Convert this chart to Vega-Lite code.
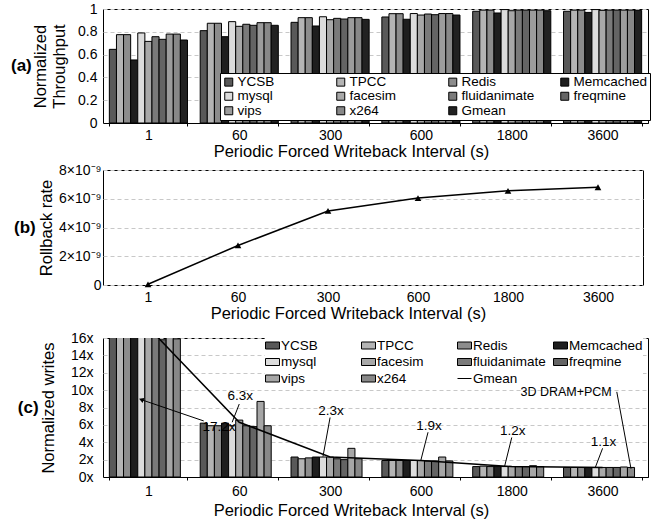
{
  "$schema": "https://vega.github.io/schema/vega-lite/v6.json",
  "padding": {"left": 10, "top": 1, "right": 0, "bottom": 0},
  "spacing": 2,
  "resolve": {"scale": {"fill": "independent"}, "legend": {"fill": "independent"}},
  "config": {
    "font": "Liberation Sans",
    "view": {"stroke": "#000", "strokeWidth": 1},
    "axis": {"labelFont": "Liberation Sans", "titleFont": "Liberation Sans", "labelFontSize": 14, "titleFontSize": 16.5, "titleFontWeight": "normal", "labelColor": "#000", "titleColor": "#000", "gridColor": "#c8c8c8", "gridDash": [4, 3], "domain": false, "ticks": false, "labelOverlap": false},
    "legend": {"labelFont": "Liberation Sans", "labelFontSize": 13.5, "labelColor": "#000"},
    "title": {"font": "Liberation Sans", "color": "#000"}
  },
  "datasets": {
    "thr": [
      {"interval": "1", "bench": "YCSB", "v": 0.646}, {"interval": "1", "bench": "TPCC", "v": 0.775}, {"interval": "1", "bench": "Redis", "v": 0.775}, {"interval": "1", "bench": "Memcached", "v": 0.553}, {"interval": "1", "bench": "mysql", "v": 0.79}, {"interval": "1", "bench": "facesim", "v": 0.716}, {"interval": "1", "bench": "fluidanimate", "v": 0.757}, {"interval": "1", "bench": "freqmine", "v": 0.734}, {"interval": "1", "bench": "vips", "v": 0.78}, {"interval": "1", "bench": "x264", "v": 0.78}, {"interval": "1", "bench": "Gmean", "v": 0.728},
      {"interval": "60", "bench": "YCSB", "v": 0.81}, {"interval": "60", "bench": "TPCC", "v": 0.875}, {"interval": "60", "bench": "Redis", "v": 0.875}, {"interval": "60", "bench": "Memcached", "v": 0.757}, {"interval": "60", "bench": "mysql", "v": 0.889}, {"interval": "60", "bench": "facesim", "v": 0.848}, {"interval": "60", "bench": "fluidanimate", "v": 0.866}, {"interval": "60", "bench": "freqmine", "v": 0.857}, {"interval": "60", "bench": "vips", "v": 0.88}, {"interval": "60", "bench": "x264", "v": 0.88}, {"interval": "60", "bench": "Gmean", "v": 0.857},
      {"interval": "300", "bench": "YCSB", "v": 0.883}, {"interval": "300", "bench": "TPCC", "v": 0.924}, {"interval": "300", "bench": "Redis", "v": 0.924}, {"interval": "300", "bench": "Memcached", "v": 0.851}, {"interval": "300", "bench": "mysql", "v": 0.932}, {"interval": "300", "bench": "facesim", "v": 0.906}, {"interval": "300", "bench": "fluidanimate", "v": 0.918}, {"interval": "300", "bench": "freqmine", "v": 0.912}, {"interval": "300", "bench": "vips", "v": 0.924}, {"interval": "300", "bench": "x264", "v": 0.924}, {"interval": "300", "bench": "Gmean", "v": 0.909},
      {"interval": "600", "bench": "YCSB", "v": 0.93}, {"interval": "600", "bench": "TPCC", "v": 0.959}, {"interval": "600", "bench": "Redis", "v": 0.959}, {"interval": "600", "bench": "Memcached", "v": 0.91}, {"interval": "600", "bench": "mysql", "v": 0.96}, {"interval": "600", "bench": "facesim", "v": 0.947}, {"interval": "600", "bench": "fluidanimate", "v": 0.956}, {"interval": "600", "bench": "freqmine", "v": 0.95}, {"interval": "600", "bench": "vips", "v": 0.96}, {"interval": "600", "bench": "x264", "v": 0.96}, {"interval": "600", "bench": "Gmean", "v": 0.947},
      {"interval": "1800", "bench": "YCSB", "v": 0.98}, {"interval": "1800", "bench": "TPCC", "v": 0.99}, {"interval": "1800", "bench": "Redis", "v": 0.99}, {"interval": "1800", "bench": "Memcached", "v": 0.965}, {"interval": "1800", "bench": "mysql", "v": 0.995}, {"interval": "1800", "bench": "facesim", "v": 0.985}, {"interval": "1800", "bench": "fluidanimate", "v": 0.99}, {"interval": "1800", "bench": "freqmine", "v": 0.99}, {"interval": "1800", "bench": "vips", "v": 0.99}, {"interval": "1800", "bench": "x264", "v": 0.99}, {"interval": "1800", "bench": "Gmean", "v": 0.985},
      {"interval": "3600", "bench": "YCSB", "v": 0.98}, {"interval": "3600", "bench": "TPCC", "v": 0.99}, {"interval": "3600", "bench": "Redis", "v": 0.99}, {"interval": "3600", "bench": "Memcached", "v": 0.97}, {"interval": "3600", "bench": "mysql", "v": 0.995}, {"interval": "3600", "bench": "facesim", "v": 0.988}, {"interval": "3600", "bench": "fluidanimate", "v": 0.99}, {"interval": "3600", "bench": "freqmine", "v": 0.99}, {"interval": "3600", "bench": "vips", "v": 0.99}, {"interval": "3600", "bench": "x264", "v": 0.99}, {"interval": "3600", "bench": "Gmean", "v": 0.988}
    ],
    "rb": [
      {"interval": "1", "r": 0.05e-9}, {"interval": "60", "r": 2.75e-9}, {"interval": "300", "r": 5.15e-9}, {"interval": "600", "r": 6.05e-9}, {"interval": "1800", "r": 6.55e-9}, {"interval": "3600", "r": 6.8e-9}
    ],
    "wr": [
      {"interval": "1", "bench": "YCSB", "v": 17.5}, {"interval": "1", "bench": "TPCC", "v": 18}, {"interval": "1", "bench": "Redis", "v": 17}, {"interval": "1", "bench": "Memcached", "v": 19}, {"interval": "1", "bench": "mysql", "v": 16.8}, {"interval": "1", "bench": "facesim", "v": 18.5}, {"interval": "1", "bench": "fluidanimate", "v": 16.5}, {"interval": "1", "bench": "freqmine", "v": 15.8}, {"interval": "1", "bench": "vips", "v": 19.5}, {"interval": "1", "bench": "x264", "v": 15.9},
      {"interval": "60", "bench": "YCSB", "v": 6.2}, {"interval": "60", "bench": "TPCC", "v": 5.9}, {"interval": "60", "bench": "Redis", "v": 5.9}, {"interval": "60", "bench": "Memcached", "v": 6.2}, {"interval": "60", "bench": "mysql", "v": 5.9}, {"interval": "60", "bench": "facesim", "v": 6.55}, {"interval": "60", "bench": "fluidanimate", "v": 5.9}, {"interval": "60", "bench": "freqmine", "v": 5.8}, {"interval": "60", "bench": "vips", "v": 8.7}, {"interval": "60", "bench": "x264", "v": 5.9},
      {"interval": "300", "bench": "YCSB", "v": 2.3}, {"interval": "300", "bench": "TPCC", "v": 2.1}, {"interval": "300", "bench": "Redis", "v": 2.2}, {"interval": "300", "bench": "Memcached", "v": 2.3}, {"interval": "300", "bench": "mysql", "v": 2.3}, {"interval": "300", "bench": "facesim", "v": 2.3}, {"interval": "300", "bench": "fluidanimate", "v": 2.1}, {"interval": "300", "bench": "freqmine", "v": 2.0}, {"interval": "300", "bench": "vips", "v": 3.3}, {"interval": "300", "bench": "x264", "v": 2.1},
      {"interval": "600", "bench": "YCSB", "v": 1.9}, {"interval": "600", "bench": "TPCC", "v": 1.9}, {"interval": "600", "bench": "Redis", "v": 1.9}, {"interval": "600", "bench": "Memcached", "v": 1.9}, {"interval": "600", "bench": "mysql", "v": 1.9}, {"interval": "600", "bench": "facesim", "v": 1.9}, {"interval": "600", "bench": "fluidanimate", "v": 1.85}, {"interval": "600", "bench": "freqmine", "v": 1.85}, {"interval": "600", "bench": "vips", "v": 2.3}, {"interval": "600", "bench": "x264", "v": 1.85},
      {"interval": "1800", "bench": "YCSB", "v": 1.2}, {"interval": "1800", "bench": "TPCC", "v": 1.25}, {"interval": "1800", "bench": "Redis", "v": 1.2}, {"interval": "1800", "bench": "Memcached", "v": 1.2}, {"interval": "1800", "bench": "mysql", "v": 1.2}, {"interval": "1800", "bench": "facesim", "v": 1.2}, {"interval": "1800", "bench": "fluidanimate", "v": 1.2}, {"interval": "1800", "bench": "freqmine", "v": 1.2}, {"interval": "1800", "bench": "vips", "v": 1.3}, {"interval": "1800", "bench": "x264", "v": 1.2},
      {"interval": "3600", "bench": "YCSB", "v": 1.1}, {"interval": "3600", "bench": "TPCC", "v": 1.1}, {"interval": "3600", "bench": "Redis", "v": 1.1}, {"interval": "3600", "bench": "Memcached", "v": 1.1}, {"interval": "3600", "bench": "mysql", "v": 1.1}, {"interval": "3600", "bench": "facesim", "v": 1.1}, {"interval": "3600", "bench": "fluidanimate", "v": 1.1}, {"interval": "3600", "bench": "freqmine", "v": 1.1}, {"interval": "3600", "bench": "vips", "v": 1.15}, {"interval": "3600", "bench": "x264", "v": 1.1}
    ],
    "gm": [
      {"interval": "1", "v": 17.2}, {"interval": "60", "v": 6.3}, {"interval": "300", "v": 2.3}, {"interval": "600", "v": 1.9}, {"interval": "1800", "v": 1.2}, {"interval": "3600", "v": 1.1}
    ],
    "ann": [
      {"interval": "60", "bench": "facesim", "v": 9.3, "label": "6.3x"},
      {"interval": "300", "bench": "facesim", "v": 7.6, "label": "2.3x"},
      {"interval": "600", "bench": "fluidanimate", "v": 5.9, "label": "1.9x"},
      {"interval": "1800", "bench": "facesim", "v": 5.3, "label": "1.2x"},
      {"interval": "3600", "bench": "facesim", "v": 4.0, "label": "1.1x"},
      {"interval": "60", "bench": "Redis", "v": 5.8, "label": "17.2x"}
    ],
    "lead": [
      {"id": "a", "interval": "60", "bench": "facesim", "v": 8.4}, {"id": "a", "interval": "60", "bench": "mysql", "v": 6.3},
      {"id": "b", "interval": "300", "bench": "facesim", "v": 6.85}, {"id": "b", "interval": "300", "bench": "mysql", "v": 2.35},
      {"id": "c", "interval": "600", "bench": "fluidanimate", "v": 5.15}, {"id": "c", "interval": "600", "bench": "facesim", "v": 1.95},
      {"id": "d", "interval": "1800", "bench": "facesim", "v": 4.55}, {"id": "d", "interval": "1800", "bench": "mysql", "v": 1.25},
      {"id": "e", "interval": "3600", "bench": "facesim", "v": 3.3}, {"id": "e", "interval": "3600", "bench": "mysql", "v": 1.15},
      {"id": "f", "interval": "60", "bench": "YCSB", "v": 6.45}, {"id": "f", "interval": "1", "bench": "mysql", "v": 8.9},
      {"id": "g", "interval": "3600", "bench": "freqmine", "v": 9.8}, {"id": "g", "interval": "3600", "bench": "x264", "v": 0.95}
    ],
    "arrow": [{"interval": "1", "bench": "mysql", "v": 8.9}],
    "dram": [{"interval": "3600", "bench": "freqmine", "v": 9.8, "label": "3D DRAM+PCM"}]
  },
  "vconcat": [
    {
      "width": 545,
      "height": 114,
      "title": {"text": "(a)", "orient": "left", "angle": 0, "anchor": "middle", "align": "right", "baseline": "middle", "fontSize": 17, "fontWeight": "bold", "offset": -20},
      "data": {"name": "thr"},
      "mark": {"type": "bar", "stroke": "#000", "strokeWidth": 1},
      "encoding": {
        "x": {"field": "interval", "type": "nominal", "sort": ["1", "60", "300", "600", "1800", "3600"], "scale": {"paddingInner": 0.14, "paddingOuter": 0.07},
          "axis": {"title": "Periodic Forced Writeback Interval (s)", "labelAngle": 0, "domain": true, "domainColor": "#000", "ticks": true, "tickBand": "extent", "tickColor": "#000", "tickSize": 3, "labelPadding": 2, "titleX": 248, "titleY": 20}},
        "xOffset": {"field": "bench", "type": "nominal", "scale": {"domain": ["YCSB", "TPCC", "Redis", "Memcached", "mysql", "facesim", "fluidanimate", "freqmine", "vips", "x264", "Gmean"]}},
        "y": {"field": "v", "type": "quantitative", "scale": {"domain": [0, 1]},
          "axis": {"title": ["Normalized", "Throughput"], "values": [0, 0.2, 0.4, 0.6, 0.8, 1], "format": "~g", "grid": true, "labelOverlap": false, "labelPadding": 6, "titlePadding": 10, "titleLineHeight": 19}},
        "fill": {"field": "bench", "type": "nominal",
          "scale": {"domain": ["YCSB", "TPCC", "Redis", "Memcached", "mysql", "facesim", "fluidanimate", "freqmine", "vips", "x264", "Gmean"],
                    "range": ["#595959", "#b4b4b4", "#8c8c8c", "#1e1e1e", "#dcdcdc", "#a8a8a8", "#7a7a7a", "#646464", "#9c9c9c", "#888888", "#222222"]},
          "legend": {"title": null, "orient": "none", "legendX": 117, "legendY": 64, "columns": 4, "direction": "horizontal", "gridAlign": "all", "columnPadding": 22, "rowPadding": -0.5, "padding": 2, "fillColor": "#fff", "strokeColor": "#000", "symbolType": "square", "symbolSize": 64, "symbolStrokeColor": "#000", "symbolStrokeWidth": 1, "symbolOpacity": 1, "labelOffset": 2}}
      }
    },
    {
      "width": 540,
      "height": 115,
      "title": {"text": "(b)", "orient": "left", "angle": 0, "anchor": "middle", "align": "right", "baseline": "middle", "fontSize": 17, "fontWeight": "bold", "offset": -19},
      "data": {"name": "rb"},
      "encoding": {
        "x": {"field": "interval", "type": "nominal", "sort": ["1", "60", "300", "600", "1800", "3600"], "scale": {"type": "point", "padding": 0.5},
          "axis": {"title": "Periodic Forced Writeback Interval (s)", "labelAngle": 0, "ticks": true, "tickSize": 42, "tickOpacity": 0, "labelPadding": -37, "titleX": 245, "titleY": 20}},
        "y": {"field": "r", "type": "quantitative", "scale": {"domain": [0, 8e-9]},
          "axis": {"title": "Rollback rate", "values": [0, 2e-9, 4e-9, 6e-9, 8e-9], "labelExpr": "datum.value == 0 ? '0' : format(datum.value * 1e9, '.0f') + '×10⁻⁹'", "grid": true, "labelOverlap": false, "labelPadding": 2, "titlePadding": 4}}
      },
      "layer": [
        {"mark": {"type": "line", "color": "#000", "strokeWidth": 1.5}},
        {"mark": {"type": "point", "shape": "triangle-up", "filled": true, "color": "#000", "size": 45, "opacity": 1}}
      ]
    },
    {
      "width": 545,
      "height": 139,
      "title": {"text": "(c)", "orient": "left", "angle": 0, "anchor": "middle", "align": "right", "baseline": "middle", "fontSize": 17, "fontWeight": "bold", "offset": -19},
      "encoding": {
        "x": {"field": "interval", "type": "nominal", "sort": ["1", "60", "300", "600", "1800", "3600"], "scale": {"paddingInner": 0.14, "paddingOuter": 0.07},
          "axis": {"title": "Periodic Forced Writeback Interval (s)", "labelAngle": 0, "domain": true, "domainColor": "#000", "ticks": true, "tickBand": "extent", "tickColor": "#000", "tickSize": 3, "labelPadding": 4, "titleX": 248, "titleY": 25}},
        "y": {"field": "v", "type": "quantitative", "scale": {"domain": [0, 16]},
          "axis": {"title": "Normalized writes", "values": [0, 2, 4, 6, 8, 10, 12, 14, 16], "labelExpr": "datum.value + 'x'", "labelOverlap": false, "labelSeparation": 0, "grid": true, "labelPadding": 10, "titlePadding": 14}}
      },
      "layer": [
        {
          "data": {"name": "wr"},
          "mark": {"type": "bar", "stroke": "#000", "strokeWidth": 1, "clip": true},
          "encoding": {
            "xOffset": {"field": "bench", "type": "nominal", "scale": {"domain": ["YCSB", "TPCC", "Redis", "Memcached", "mysql", "facesim", "fluidanimate", "freqmine", "vips", "x264"]}},
            "fill": {"field": "bench", "type": "nominal",
              "scale": {"domain": ["YCSB", "TPCC", "Redis", "Memcached", "mysql", "facesim", "fluidanimate", "freqmine", "vips", "x264", "Gmean"],
                        "range": ["#595959", "#b4b4b4", "#8c8c8c", "#1e1e1e", "#dcdcdc", "#a8a8a8", "#7a7a7a", "#646464", "#a6a6a6", "#888888", "#000000"]},
              "legend": {"title": null, "orient": "none", "legendX": 162, "legendY": 0, "zindex": 0, "columns": 4, "direction": "horizontal", "gridAlign": "all", "columnPadding": 4, "rowPadding": 2.5, "padding": 0, "fillColor": "#fff", "symbolSize": 196, "symbolStrokeColor": "#000", "symbolStrokeWidth": 1, "symbolOpacity": 1, "labelOffset": 1,
                "encode": {"symbols": {"update": {"shape": {"signal": "datum.value === 'Gmean' ? 'stroke' : 'M-1,-0.5H1V0.5H-1Z'"}, "stroke": {"value": "#000"}}}}}}
          }
        },
        {"mark": {"type": "rule", "color": "#000", "strokeWidth": 3}, "encoding": {"y": {"datum": 1}}},
        {
          "data": {"name": "gm"},
          "mark": {"type": "line", "color": "#000", "strokeWidth": 1.5, "clip": true},
          "encoding": {}
        },
        {
          "data": {"name": "lead"},
          "mark": {"type": "line", "color": "#000", "strokeWidth": 1},
          "encoding": {
            "xOffset": {"field": "bench", "type": "nominal"},
            "detail": {"field": "id"}
          }
        },
        {
          "data": {"name": "arrow"},
          "mark": {"type": "point", "shape": "triangle-up", "filled": true, "color": "#000", "size": 30, "angle": 291, "opacity": 1},
          "encoding": {
            "xOffset": {"field": "bench", "type": "nominal"}
          }
        },
        {
          "data": {"name": "ann"},
          "mark": {"type": "text", "fontSize": 13.5, "color": "#000", "dx": 1},
          "encoding": {
            "xOffset": {"field": "bench", "type": "nominal"},
            "text": {"field": "label"}
          }
        },
        {
          "data": {"name": "dram"},
          "mark": {"type": "text", "fontSize": 12.5, "color": "#000", "align": "right", "dx": -5},
          "encoding": {
            "xOffset": {"field": "bench", "type": "nominal"},
            "text": {"field": "label"}
          }
        }
      ]
    }
  ]
}
